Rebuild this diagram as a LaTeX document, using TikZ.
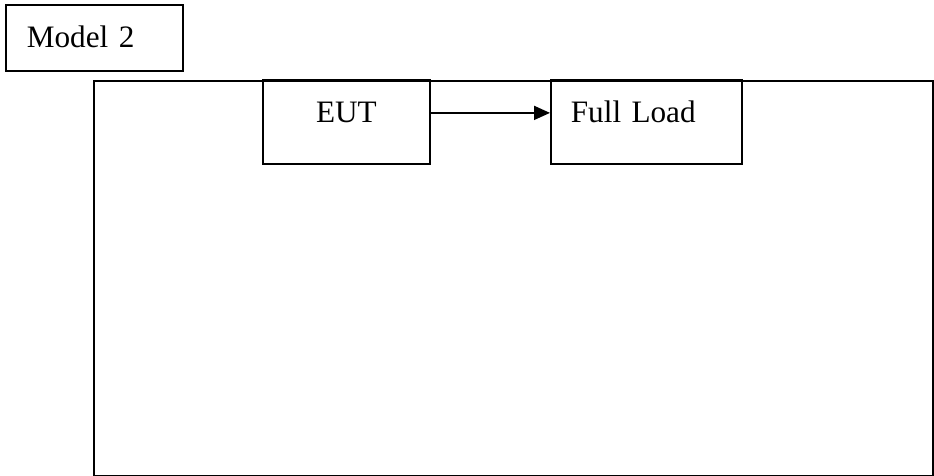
\documentclass[tikz,border=0pt]{standalone}
\usepackage{fontspec}
\setmainfont{Liberation Serif}
\usetikzlibrary{arrows.meta}

\begin{document}
\begin{tikzpicture}[x=0.5pt, y=-0.5pt, line width=0.9pt,
        every node/.style={font=\fontsize{15.6}{19}\selectfont, inner ysep=0pt},
        box/.style={draw, anchor=north west},
        flow/.style={-{Triangle[length=8pt, width=7pt]}}]
        \useasboundingbox (0,0) rectangle (934,476);
        \node[box, inner xsep=10.5pt, text width=67.5pt, align=left,
            text height=21.5pt, text depth=11.5pt] (model) at (5,4) {Model 2};
        \node[box, minimum width=419.5pt, minimum height=197.5pt] (frame) at (93,80) {};
        \node[box, minimum width=83.5pt, align=center,
            text height=21.5pt, text depth=20.5pt] (eut) at (262,79) {EUT};
        \node[box, inner xsep=10pt, text width=75.5pt, align=left,
            text height=21.5pt, text depth=20.5pt] (load) at (550,79) {Full Load};
        \draw[flow] ([yshift=5pt]eut.base east) -- ([yshift=5pt]load.base west);
\end{tikzpicture}
\end{document}
